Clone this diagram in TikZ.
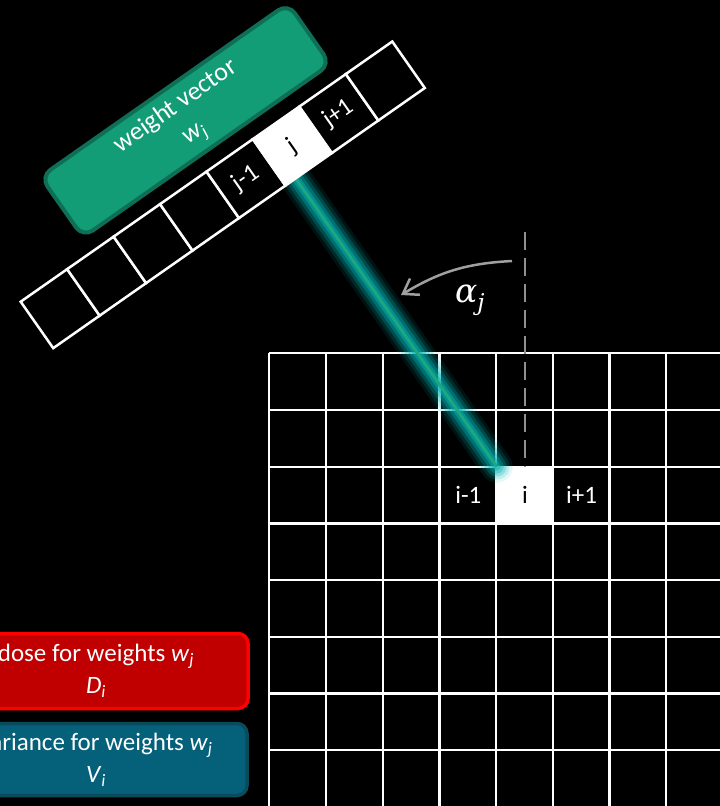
\documentclass[tikz,border=0pt]{standalone}
\usepackage{fontspec}
\setmainfont{Carlito}
\newfontfamily\greekfont{DejaVu Serif}
\usetikzlibrary{arrows.meta,calc}
\definecolor{wgfill}{HTML}{139D77}
\definecolor{wgline}{HTML}{0F6F56}
\definecolor{dosefill}{HTML}{C00000}
\definecolor{doseline}{HTML}{FF0000}
\definecolor{varfill}{HTML}{05607A}
\definecolor{varline}{HTML}{0A4B5C}
\definecolor{glowc}{HTML}{00B3B3}
\definecolor{beamcore}{HTML}{1FA67E}
\definecolor{arcgray}{HTML}{A0A0A0}
\definecolor{dashgray}{HTML}{909090}
\begin{document}
\begin{tikzpicture}[x=1pt,y=-1pt,
  gridline/.style={white, line width=2.3pt},
  vcell/.style={draw=white, fill=black, line width=2.5pt, minimum size=56.7pt, inner sep=0pt, outer sep=0pt, text=white, font=\fontsize{25}{30}\selectfont},
  gcell/.style={fill=white, minimum size=56.7pt, inner sep=0pt, outer sep=0pt},
  lbl/.style={text=white, font=\fontsize{25}{30}\selectfont, inner sep=0pt},
  wbox/.style={draw=wgline, fill=wgfill, line width=4pt, rounded corners=12pt, minimum width=302pt, minimum height=74pt, align=center, text=white, font=\fontsize{26}{32}\selectfont},
  dosebox/.style={draw=doseline, fill=dosefill, line width=3.5pt, rounded corners=10pt, minimum width=304pt, minimum height=75pt, align=center, text=white, font=\fontsize{25}{32}\selectfont},
  varbox/.style={draw=varline, fill=varfill, line width=3.5pt, rounded corners=10pt, minimum width=302pt, minimum height=72pt, align=center, text=white, font=\fontsize{25}{32}\selectfont},
  arcarrow/.style={arcgray, line width=2.5pt, -{Straight Barb[length=14pt,width=19pt]}},
  dashline/.style={dashgray, line width=2.5pt, dash pattern=on 18pt off 8pt},
  glowline/.style={glowc, line cap=round},
  beamline/.style={beamcore, line width=3pt}
]
\useasboundingbox (0,0) rectangle (720,806);
\fill[black] (0,0) rectangle (720,806);
\clip (0,0) rectangle (720,806);

% grid
\foreach \k in {0,...,8} {
  \draw[gridline] ({269.3+\k*56.7},353.3) -- ({269.3+\k*56.7},830);
  \draw[gridline] (269.3,{353.3+\k*56.7}) -- (760,{353.3+\k*56.7});
}
\node[gcell] (celli) at (525,495) {};
\node[lbl, text=black] (li) at (celli) {i};
\node[lbl] (lim) at (468.35,495) {i-1};
\node[lbl] (lip) at (581.65,495) {i+1};

% rotated vector frame
\begin{scope}[shift={(20.7,301.7)}, rotate=35]
  \coordinate (bs) at (296,56.7);
\end{scope}

% beam
\foreach \w/\o in {32/0.10, 26/0.16, 20/0.24, 14/0.35, 8/0.5} {
  \draw[glowline, line width=\w pt, opacity=\o] (bs) -- (celli.north west);
}
\draw[beamline] (bs) -- (celli.north west);

% vector
\begin{scope}[shift={(20.7,301.7)}, rotate=35, transform shape]
  \node[vcell] (v0) at (28.35,28.35) {};
  \node[vcell] (v1) at (85.05,28.35) {};
  \node[vcell] (v2) at (141.75,28.35) {};
  \node[vcell] (v3) at (198.45,28.35) {};
  \node[vcell] (v4) at (255.15,28.35) {j-1};
  \node[vcell, fill=white, text=black] (v5) at (311.85,28.35) {j};
  \node[vcell] (v6) at (368.55,28.35) {j+1};
  \node[vcell] (v7) at (425.25,28.35) {};
  \node[wbox] (wv) at (239,-54) {weight vector\\\textit{w}\textsubscript{\textit{j}}};
\end{scope}

% angle
\coordinate (dtop) at (525,232);
\draw[dashline] (dtop) -- (celli.north);
\coordinate (arcS) at (512,261);
\coordinate (arcE) at (401,295);
\draw[arcarrow] (arcS) to[bend right=14] (arcE);
\node[text=white, font=\greekfont\itshape\fontsize{33}{40}\selectfont, inner sep=0pt] (alpha) at (470,300) {α\textsubscript{j}};

% legend boxes
\node[dosebox] (dose) at (96,671) {dose for weights \textit{w}\textsubscript{\textit{j}}\\\textit{D}\textsubscript{\textit{i}}};
\node[varbox] (var) at (96,759.5) {variance for weights \textit{w}\textsubscript{\textit{j}}\\\textit{V}\textsubscript{\textit{i}}};
\end{tikzpicture}
\end{document}
